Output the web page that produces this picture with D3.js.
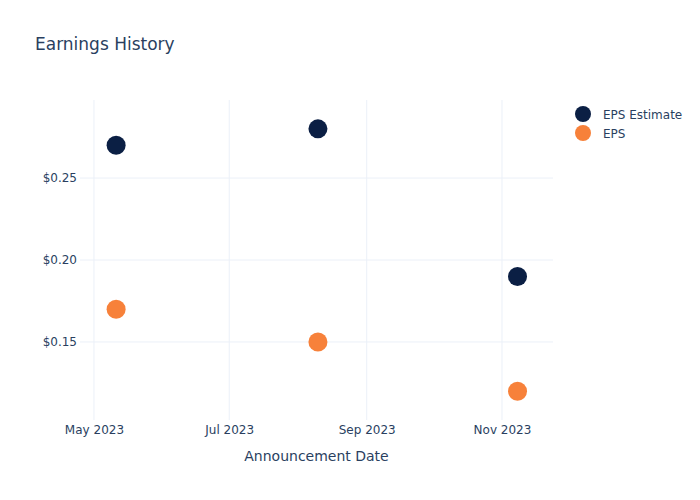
<!DOCTYPE html>
<html><head><meta charset="utf-8">
<script src="https://cdn.jsdelivr.net/npm/d3@7"></script>
<style>body{margin:0;background:#fff}text{font-family:"DejaVu Sans",sans-serif}</style>
</head><body>
<svg id="c" width="700" height="500"></svg>
<script>
const dates = ["2023-05-11", "2023-08-10", "2023-11-08"];
const epsEstimate = [0.27, 0.28, 0.19];
const eps = [0.17, 0.15, 0.12];
const yTicks = [0.15, 0.20, 0.25];
const xTicks = ["2023-05-01", "2023-07-01", "2023-09-01", "2023-11-01"];
const seriesNames = ["EPS Estimate", "EPS"];
const colors = ["#0b1f44", "#f7813a"];

const parse = d3.utcParse("%Y-%m-%d");
const svg = d3.select("#c");
const L = 80, R = 553, T = 100, B = 420;
const x = d3.scaleUtc().domain([Date.UTC(2023,3,24,17), Date.UTC(2023,10,24)]).range([L, R]);
const y = d3.scaleLinear().domain([0.1018, 0.297]).range([B + 1, T + 1]);
const txt = "#2a3f5f", grid = "#ebf0f8";

// gridlines
svg.append("g").selectAll("line").data(xTicks).join("line")
  .attr("x1", d => x(parse(d))).attr("x2", d => x(parse(d)))
  .attr("y1", T).attr("y2", B).attr("stroke", grid).attr("stroke-width", 1);
svg.append("g").selectAll("line").data(yTicks).join("line")
  .attr("x1", L).attr("x2", R).attr("y1", d => y(d)).attr("y2", d => y(d))
  .attr("stroke", grid).attr("stroke-width", 1);

// axes
const xAxis = d3.axisBottom(x).tickValues(xTicks.map(parse)).tickFormat(d3.utcFormat("%b %Y")).tickSize(0).tickPadding(5);
const gx = svg.append("g").attr("transform", `translate(0,${B})`).call(xAxis);
gx.select(".domain").remove();
gx.selectAll("text").attr("fill", txt).style("font-size", "12px").style("font-family", "DejaVu Sans");

const yAxis = d3.axisLeft(y).tickValues(yTicks).tickFormat(d => "$" + d3.format(".2f")(d)).tickSize(0).tickPadding(3);
const gy = svg.append("g").attr("transform", `translate(${L},0)`).call(yAxis);
gy.select(".domain").remove();
gy.selectAll("text").attr("fill", txt).style("font-size", "12px").style("font-family", "DejaVu Sans");

// points
[epsEstimate, eps].forEach((vals, i) => {
  svg.append("g").selectAll("circle").data(vals).join("circle")
    .attr("cx", (d, j) => x(parse(dates[j]))).attr("cy", d => y(d))
    .attr("r", 9.5).attr("fill", colors[i]);
});

// title
svg.append("text").attr("x", 35).attr("y", 50).attr("fill", txt).style("font-size", "17px").text("Earnings History");
svg.append("text").attr("x", (L + R) / 2).attr("y", 461).attr("text-anchor", "middle").attr("fill", txt).style("font-size", "14px").text("Announcement Date");

// legend
const lg = svg.append("g").selectAll("g").data(seriesNames).join("g")
  .attr("transform", (d, i) => `translate(583,${114 + i * 19})`);
lg.append("circle").attr("r", 8).attr("fill", (d, i) => colors[i]);
lg.append("text").attr("x", 20).attr("y", 4.5).attr("fill", txt).style("font-size", "12px").text(d => d);
</script>
</body></html>
